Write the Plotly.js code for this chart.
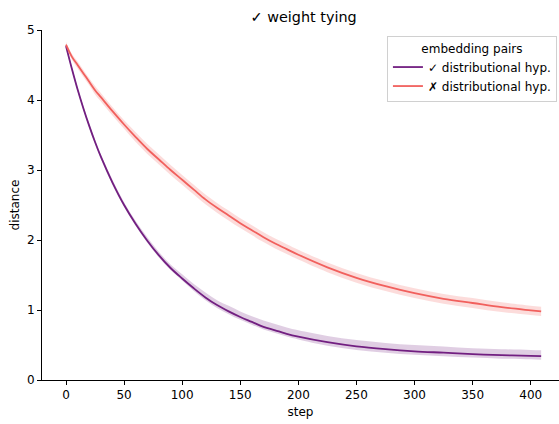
<!DOCTYPE html>
<html>
<head>
<meta charset="utf-8">
<script src="https://cdn.plot.ly/plotly-3.0.1.min.js"></script>
<style>html,body{margin:0;padding:0;background:#fff;}#chart{width:559px;height:424px;}</style>
</head>
<body>
<div id="chart"></div>
<script>
const steps = [0,5,10,15,20,25,30,40,50,60,70,80,90,100,110,120,130,140,150,160,170,180,190,200,225,250,275,300,325,350,375,400,409];

const tiedMean = [4.77,4.45,4.15,3.88,3.63,3.40,3.19,2.82,2.50,2.23,1.99,1.78,1.60,1.45,1.31,1.18,1.07,0.98,0.90,0.83,0.76,0.71,0.66,0.62,0.54,0.48,0.44,0.41,0.39,0.37,0.355,0.345,0.34];
const tiedUpper = [4.80,4.48,4.18,3.91,3.66,3.43,3.22,2.86,2.54,2.27,2.04,1.83,1.65,1.51,1.37,1.25,1.14,1.06,0.98,0.91,0.85,0.80,0.75,0.71,0.63,0.57,0.53,0.50,0.48,0.455,0.44,0.43,0.425];
const tiedLower = [4.74,4.42,4.12,3.85,3.60,3.37,3.16,2.79,2.47,2.20,1.96,1.75,1.57,1.42,1.27,1.14,1.03,0.94,0.86,0.79,0.72,0.67,0.62,0.58,0.49,0.43,0.39,0.36,0.34,0.32,0.305,0.295,0.29];

const untiedMean = [4.79,4.62,4.50,4.38,4.26,4.14,4.04,3.84,3.65,3.47,3.30,3.15,3.00,2.86,2.72,2.58,2.46,2.35,2.24,2.14,2.04,1.95,1.87,1.79,1.61,1.46,1.34,1.24,1.16,1.10,1.04,0.995,0.98];
const untiedUpper = [4.83,4.66,4.55,4.43,4.31,4.20,4.10,3.90,3.71,3.54,3.37,3.22,3.07,2.93,2.79,2.65,2.53,2.42,2.31,2.21,2.11,2.02,1.94,1.86,1.68,1.53,1.41,1.31,1.23,1.17,1.11,1.06,1.045];
const untiedLower = [4.75,4.58,4.45,4.33,4.21,4.08,3.98,3.78,3.59,3.40,3.23,3.08,2.93,2.79,2.65,2.51,2.39,2.28,2.17,2.07,1.97,1.88,1.80,1.72,1.54,1.39,1.27,1.17,1.09,1.03,0.97,0.93,0.915];

const seriesNames = ['✓ distributional hyp.', '✗ distributional hyp.'];
const xTicks = [0,50,100,150,200,250,300,350,400];
const yTicks = [0,1,2,3,4,5];

const purple = '#721f81';
const red = '#f1605d';
const font = 'DejaVu Sans, sans-serif';

function band(lower, upper, fillcolor) {
  return [
    {x: steps, y: lower, mode: 'lines', line: {width: 0, shape: 'spline'}, hoverinfo: 'skip', showlegend: false},
    {x: steps, y: upper, mode: 'lines', line: {width: 0, shape: 'spline'}, fill: 'tonexty', fillcolor: fillcolor, hoverinfo: 'skip', showlegend: false}
  ];
}

const data = [
  ...band(tiedLower, tiedUpper, 'rgba(114,31,129,0.22)'),
  {x: steps, y: tiedMean, mode: 'lines', name: seriesNames[0], line: {color: purple, width: 1.8, shape: 'spline'}},
  ...band(untiedLower, untiedUpper, 'rgba(241,96,93,0.22)'),
  {x: steps, y: untiedMean, mode: 'lines', name: seriesNames[1], line: {color: red, width: 1.8, shape: 'spline'}}
];

const layout = {
  width: 559, height: 424,
  margin: {l: 42, r: 0, t: 30, b: 44, pad: 0},
  paper_bgcolor: '#fff', plot_bgcolor: '#fff',
  font: {family: font, size: 12, color: '#000'},
  title: {text: '✓ weight tying', font: {size: 14.4, family: font, color: '#000'}, xref: 'paper', x: 0.506, xanchor: 'center', yref: 'container', y: 0.959, yanchor: 'middle'},
  xaxis: {
    range: [-20.66, 424.36], showgrid: false, zeroline: false,
    showline: true, linecolor: '#000', linewidth: 1,
    ticks: 'outside', ticklen: 4, tickwidth: 1, tickcolor: '#000',
    tickvals: xTicks, ticktext: xTicks.map(String),
    tickfont: {size: 12, family: font, color: '#000'},
    title: {text: 'step', font: {size: 12, family: font, color: '#000'}, standoff: 6}
  },
  yaxis: {
    range: [0, 5], showgrid: false, zeroline: false,
    showline: true, linecolor: '#000', linewidth: 1,
    ticks: 'outside', ticklen: 4, tickwidth: 1, tickcolor: '#000',
    tickvals: yTicks, ticktext: yTicks.map(String),
    tickfont: {size: 12, family: font, color: '#000'},
    title: {text: 'distance', font: {size: 12, family: font, color: '#000'}, standoff: 4}
  },
  legend: {
    x: 0.996, xanchor: 'right', y: 0.983, yanchor: 'top',
    traceorder: 'normal',
    bgcolor: 'rgba(255,255,255,0.8)', bordercolor: '#d0d0d0', borderwidth: 1,
    font: {size: 12, family: font, color: '#000'},
    title: {text: 'embedding pairs', side: 'top center', font: {size: 12, family: font, color: '#000'}},
    itemwidth: 30, tracegroupgap: 0
  },
  showlegend: true
};

Plotly.newPlot('chart', data, layout, {staticPlot: true, displayModeBar: false});
</script>
</body>
</html>
